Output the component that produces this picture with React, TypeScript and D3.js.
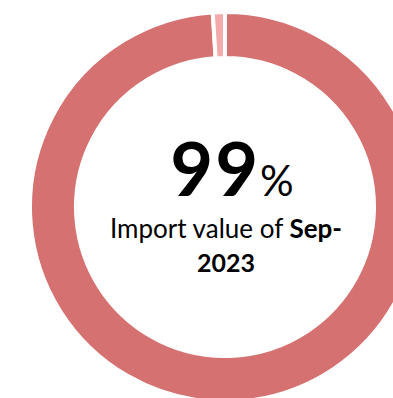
import React from "react";
import * as d3 from "d3";

const categories = ["Sep-2023", "Other"];
const values = [99, 1];
const colors = ["#D57170", "#F3AAAA"];
const percentLabel = "99";
const line1 = "Import value of ";
const line1Bold = "Sep-";
const line2 = "2023";

export default function App() {
  const width = 393;
  const height = 398;
  const cx = 225;
  const cy = 207;
  const outerR = 195;
  const innerR = 149;
  const pie = d3.pie<number>().sort(null).value((d) => d);
  const arcs = pie(values);
  const arc = d3.arc<d3.PieArcDatum<number>>().innerRadius(innerR).outerRadius(outerR);
  const font = "Lato, 'Open Sans', sans-serif";
  return (
    <svg
      width={width}
      height={height}
      style={{ position: "absolute", left: 0, top: 0 }}
      fontFamily={font}
    >
      <rect width={width} height={height} fill="#fff" />
      <g transform={`translate(${cx},${cy})`}>
        {arcs.map((a, i) => (
          <path
            key={categories[i]}
            d={arc(a) || ""}
            fill={colors[i]}
            stroke="#fff"
            strokeWidth={4}
          />
        ))}
      </g>
      <text x={232} y={196} textAnchor="middle" fill="#000">
        <tspan fontSize={74} fontWeight="bold" letterSpacing={2}>{percentLabel}</tspan>
        <tspan fontSize={42}>%</tspan>
      </text>
      <text x={226} y={238} textAnchor="middle" fontSize={26} fill="#000">
        <tspan>{line1}</tspan>
        <tspan fontWeight="bold">{line1Bold}</tspan>
      </text>
      <text x={226} y={272} textAnchor="middle" fontSize={25} fontWeight="bold" fill="#000">
        {line2}
      </text>
    </svg>
  );
}
